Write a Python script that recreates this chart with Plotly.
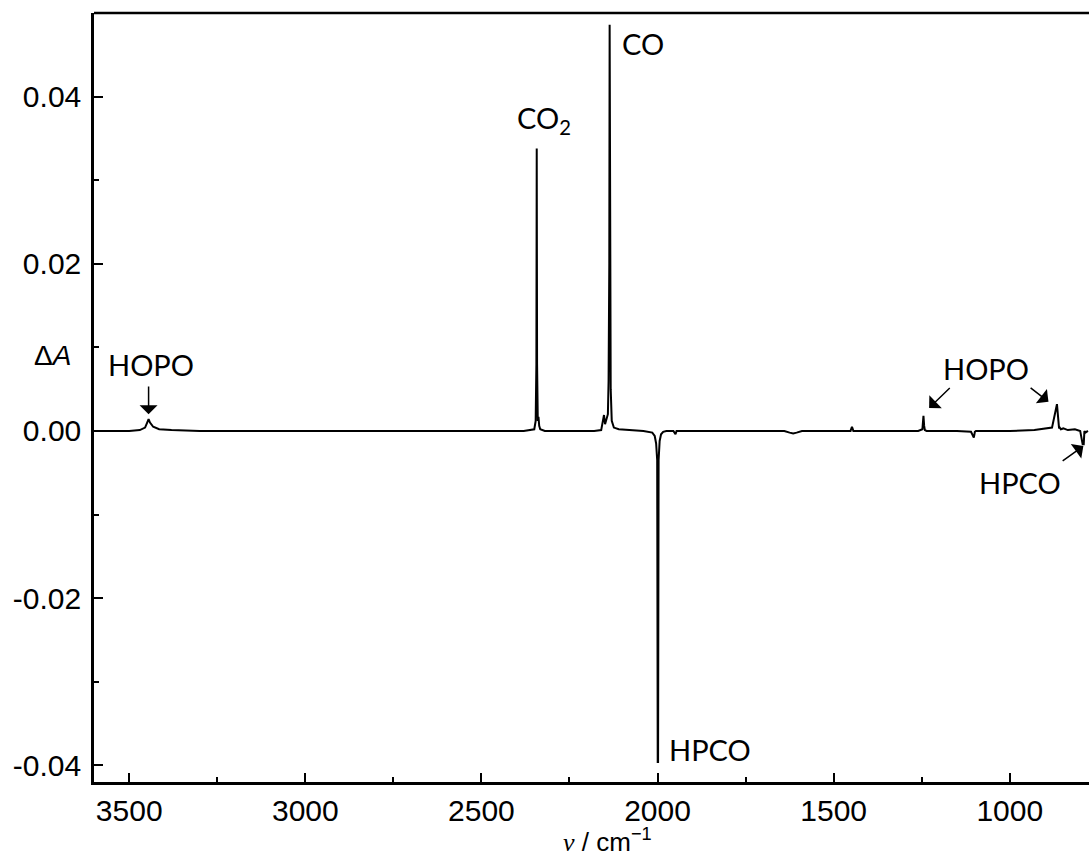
import plotly.graph_objects as go

# Spectrum (wavenumber in cm^-1, difference absorbance)
wavenumber = [3600, 3550, 3500, 3470, 3455, 3449, 3445, 3441, 3432, 3415, 3380, 3300, 3100,
              2900, 2700, 2500, 2380, 2350, 2346, 2344, 2343, 2342, 2340, 2338, 2336, 2333,
              2320, 2250, 2180, 2160, 2155, 2152, 2149, 2145, 2141, 2139, 2137, 2136, 2135,
              2133, 2130, 2124, 2110, 2080, 2040, 2015, 2008, 2004, 2001, 1999.5, 1998.5,
              1997, 1994, 1990, 1984, 1975, 1955, 1949, 1946, 1900, 1800, 1700, 1640, 1625,
              1615, 1605, 1590, 1500, 1452, 1448, 1444, 1400, 1300, 1260, 1248, 1245, 1243,
              1241, 1236, 1200, 1150, 1110, 1102, 1099, 1096, 1080, 1000, 930, 880, 866, 862,
              860, 858, 855, 848, 835, 815, 800, 793, 790, 788, 785, 778, 775]
delta_a = [0.0000, 0.0000, 0.0000, 0.0001, 0.0004, 0.0010, 0.0014, 0.0010, 0.0005, 0.0002,
           0.0001, 0.0000, 0.0000, 0.0000, 0.0000, 0.0000, 0.0000, 0.0002, 0.0012, 0.0080,
           0.0338, 0.0080, 0.0012, 0.0017, 0.0006, 0.0002, 0.0000, 0.0000, 0.0000, 0.0001,
           0.0012, 0.0019, 0.0008, 0.0014, 0.0020, 0.0060, 0.0200, 0.0486, 0.0200, 0.0050,
           0.0012, 0.0004, 0.0002, 0.0001, 0.0000, -0.0002, -0.0006, -0.0015, -0.0035,
           -0.0396, -0.0396, -0.0035, -0.0012, -0.0004, -0.0001, 0.0000, 0.0000, -0.0004,
           0.0000, 0.0000, 0.0000, 0.0000, 0.0000, -0.0002, -0.0003, -0.0002, 0.0000,
           0.0000, 0.0000, 0.0005, 0.0000, 0.0000, 0.0000, 0.0000, 0.0002, 0.0018, 0.0006,
           0.0001, 0.0000, 0.0000, 0.0000, -0.0001, -0.0008, -0.0001, 0.0000, 0.0000,
           0.0000, 0.0001, 0.0004, 0.0032, 0.0008, 0.0003, 0.0004, 0.0002, 0.0003,
           0.0001, 0.0002, 0.0000, -0.0016, -0.0016, 0.0000, -0.0002, 0.0000]

x_tick_vals = [3500, 3000, 2500, 2000, 1500, 1000]
x_tick_text = ["3500", "3000", "2500", "2000", "1500", "1000"]
y_tick_vals = [-0.04, -0.02, 0.00, 0.02, 0.04]
y_tick_text = ["-0.04", "-0.02", "0.00", "0.02", "0.04"]

fig = go.Figure()
fig.add_trace(go.Scatter(x=wavenumber, y=delta_a, mode="lines",
                         line=dict(color="black", width=2), showlegend=False,
                         hoverinfo="skip"))

tick_font = dict(family="Liberation Sans, Arial, sans-serif", size=30, color="black")
label_font = dict(family="Lato, Open Sans, sans-serif", size=29, color="black")

fig.update_layout(
    width=1089, height=857,
    margin=dict(l=94, r=0, t=13, b=75),
    paper_bgcolor="white", plot_bgcolor="white",
    xaxis=dict(range=[3600, 775], tickvals=x_tick_vals, ticktext=x_tick_text,
               showgrid=False, zeroline=False, showline=True, linecolor="black",
               linewidth=2.5, ticks="inside", ticklen=9, tickwidth=2, tickcolor="black",
               tickfont=tick_font,
               minor=dict(ticks="inside", dtick=250, tick0=0, ticklen=5, tickwidth=2,
                          tickcolor="black", showgrid=False)),
    yaxis=dict(range=[-0.042, 0.050], tickvals=y_tick_vals, ticktext=y_tick_text,
               showgrid=False, zeroline=False, showline=True, linecolor="black",
               linewidth=2.5, ticks="inside", ticklen=9, tickwidth=2, tickcolor="black",
               tickfont=tick_font, ticklabelstandoff=4,
               minor=dict(ticks="inside", dtick=0.01, tick0=0, ticklen=5, tickwidth=2,
                          tickcolor="black", showgrid=False)),
)

# top frame line
fig.add_shape(type="line", xref="paper", yref="paper", x0=0, x1=1, y0=1, y1=1,
              line=dict(color="black", width=2.5))

# axis titles
fig.add_annotation(xref="paper", yref="paper", x=0.516, y=-0.0975, showarrow=False,
                   text="<span style='font-family:Liberation Serif'><i>ν</i></span> / cm<sup>−1</sup>",
                   xanchor="center", yanchor="bottom", yshift=-2,
                   font=dict(family="Liberation Sans, Arial, sans-serif", size=26, color="black"))
fig.add_annotation(xref="paper", yref="paper", x=-0.042, y=0.555, showarrow=False,
                   text="Δ<i>A</i>", xanchor="center", yanchor="middle",
                   font=dict(family="Liberation Sans, Arial, sans-serif", size=28, color="black"))

# peak labels
fig.add_annotation(x=3438, y=0.0079, text="HOPO", showarrow=False, font=label_font,
                   xanchor="center", yanchor="middle")
fig.add_annotation(x=2405, y=0.0372, text="CO<sub>2</sub>", showarrow=False, font=label_font,
                   xanchor="left", yanchor="middle")
fig.add_annotation(x=2107, y=0.0463, text="CO", showarrow=False, font=label_font,
                   xanchor="left", yanchor="middle")
fig.add_annotation(x=1974, y=-0.0381, text="HPCO", showarrow=False, font=label_font,
                   xanchor="left", yanchor="middle")
fig.add_annotation(x=1067, y=0.0075, text="HOPO", showarrow=False, font=label_font,
                   xanchor="center", yanchor="middle")
fig.add_annotation(x=970, y=-0.0062, text="HPCO", showarrow=False, font=label_font,
                   xanchor="center", yanchor="middle")

# arrows
arrow_style = dict(showarrow=True, arrowhead=1, arrowsize=2.0, arrowwidth=1.5,
                   arrowcolor="black", axref="x", ayref="y", text="")
fig.add_annotation(x=3445, y=0.0020, ax=3445, ay=0.0055, **arrow_style)
fig.add_annotation(x=1229, y=0.00275, ax=1166, ay=0.0053, **arrow_style)
fig.add_annotation(x=890, y=0.0035, ax=945, ay=0.0053, **arrow_style)
fig.add_annotation(x=791, y=-0.0018, ax=854, ay=-0.0037, **arrow_style)

fig.write_html("out.html")
